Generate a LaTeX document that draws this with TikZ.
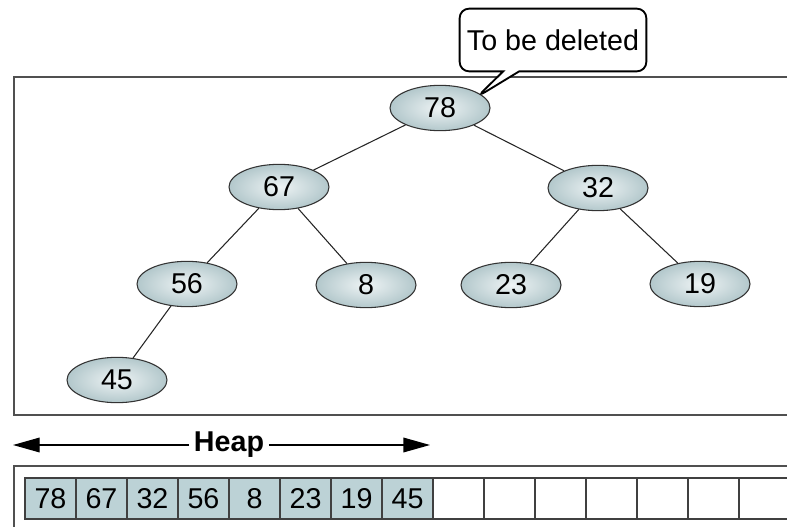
\documentclass[tikz,border=0pt]{standalone}
\usepackage{fontspec}
\setmainfont{Liberation Sans}
\usetikzlibrary{shapes.geometric,shapes.callouts,arrows.meta}
\definecolor{heapblue}{RGB}{188,210,214}
\definecolor{framegray}{RGB}{80,80,80}
\tikzset{every node/.style={font=\fontsize{21.5}{25}\selectfont},
 heapnode/.style={ellipse, draw=black!80, line width=.8pt, inner color=heapblue!25,
   outer color=heapblue!95!black, minimum width=75pt, minimum height=34pt, inner sep=0pt},
 cell/.style={draw=black!75, line width=1pt, minimum width=38.25pt,
   minimum height=30.75pt, inner sep=0pt},
 usedcell/.style={fill=heapblue},
 frame/.style={draw=framegray, line width=1.5pt},
 branch/.style={draw=black!85, line width=.8pt},
}

\begin{document}
\begin{tikzpicture}[x=0.75pt, y=-0.75pt]
        \useasboundingbox (0,0) rectangle (787,527);
        \clip (0,0) rectangle (787,527);
        \draw[frame] (800,77) -- (14,77) -- (14,415) -- (800,415);
        \draw[frame] (800,466) -- (14,466) -- (14,540);

        \node[heapnode] (n78) at (440,108) {78};
        \node[heapnode] (n67) at (279,187) {67};
        \node[heapnode] (n32) at (598,188) {32};
        \node[heapnode] (n56) at (187,284) {56};
        \node[heapnode] (n8) at (366,285) {8};
        \node[heapnode] (n23) at (511,285) {23};
        \node[heapnode] (n19) at (700,284) {19};
        \node[heapnode] (n45) at (117,380) {45};
        \draw[branch] (n78) -- (n67);
        \draw[branch] (n78) -- (n32);
        \draw[branch] (n67) -- (n56);
        \draw[branch] (n67) -- (n8);
        \draw[branch] (n32) -- (n23);
        \draw[branch] (n32) -- (n19);
        \draw[branch] (n56) -- (n45);

        \coordinate (tip) at (477,97);
        \node[rectangle callout, draw, line width=1.4pt, rounded corners=7pt, fill=white,
            minimum width=140pt, minimum height=47pt, callout pointer width=12pt,
            callout absolute pointer={(tip)}] (del) at (553,40) {To be deleted};

        \node (heap) at (229,445) {\bfseries Heap};
        \coordinate (hl) at (13,445);
        \coordinate (hr) at (430,445);
        \draw[line width=1pt, -{Triangle[length=20pt,width=11pt]}] (heap) -- (hl);
        \draw[line width=1pt, -{Triangle[length=20pt,width=11pt]}] (heap) -- (hr);

        \foreach \v[count=\i] in {78, 67, 32, 56, 8, 23, 19, 45} {
            \node[cell, usedcell] (c\i) at (51*\i-0.5, 498.5) {\v};
        }
        \foreach \i in {9,...,15} {
            \node[cell] (c\i) at (51*\i-0.5, 498.5) {};
        }
    \end{tikzpicture}
\end{document}
